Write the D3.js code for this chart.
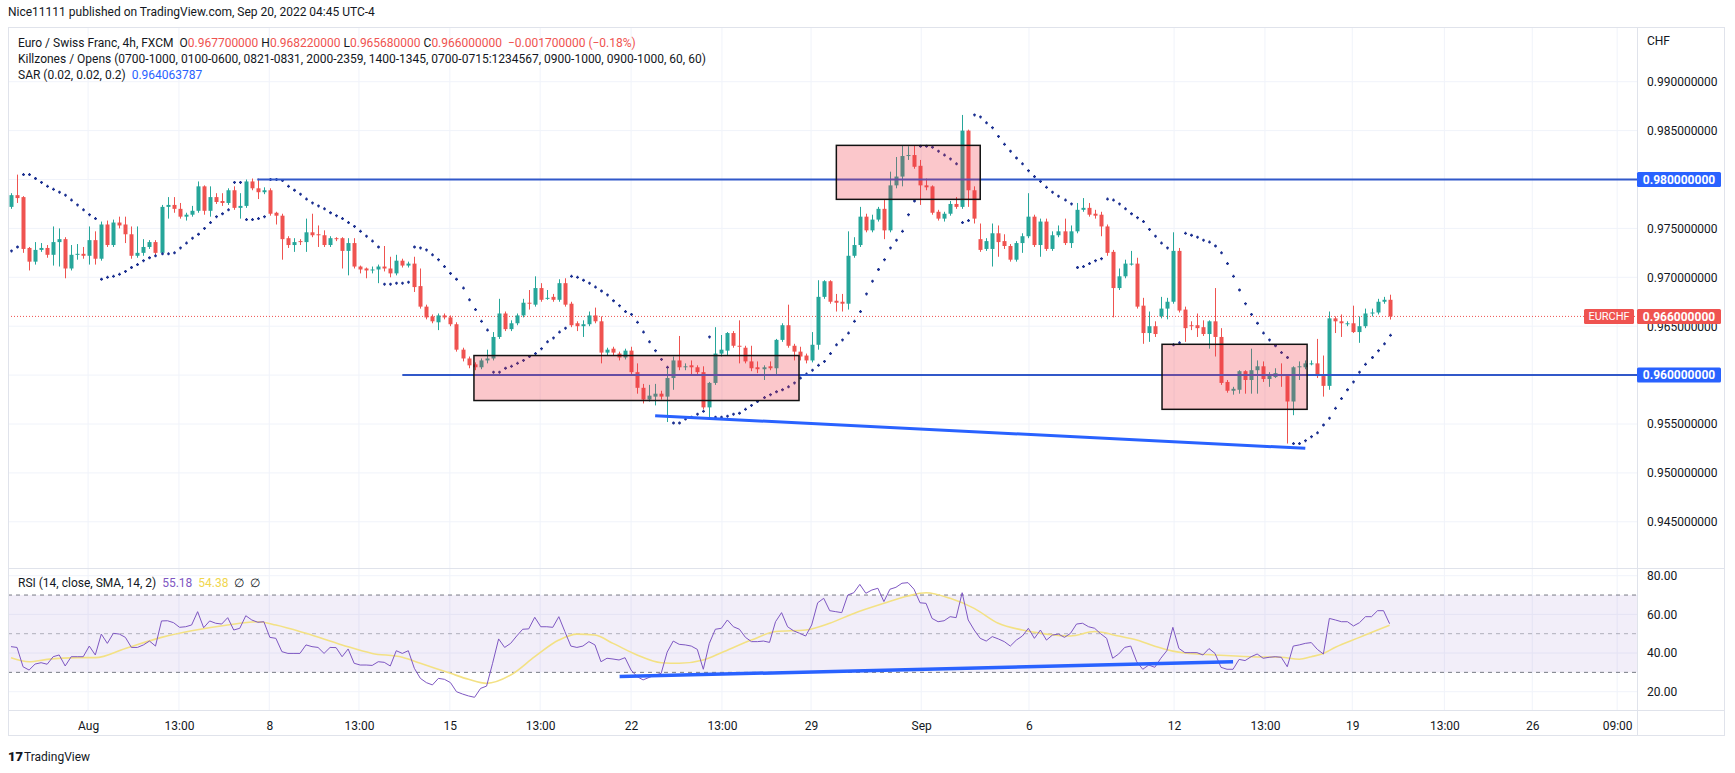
<!DOCTYPE html>
<html>
<head>
<meta charset="utf-8">
<script src="https://cdn.jsdelivr.net/npm/d3@7/dist/d3.min.js"></script>
<style>
  html, body { margin: 0; padding: 0; background: #fff; }
  svg { display: block; font-family: Roboto, "Noto Sans", sans-serif; }
</style>
</head>
<body>
<svg id="chart" width="1735" height="773"></svg>
<script>
// EUR/CHF 4h candles (index 0 = first visible candle)
const opens = [
  0.9772,0.9784,0.9782,0.9730,0.9716,0.9728,0.9730,0.9723,0.9736,0.9739,
  0.9709,0.9723,0.9724,0.9722,0.9738,0.9719,0.9754,0.9733,0.9756,0.9754,
  0.9744,0.9722,0.9725,0.9731,0.9736,0.9725,0.9772,0.9774,0.9770,0.9762,
  0.9764,0.9768,0.9793,0.9768,0.9782,0.9778,0.9776,0.9789,0.9771,0.9773,
  0.9798,0.9791,0.9787,0.9789,0.9766,0.9763,0.9740,0.9733,0.9737,0.9736,
  0.9746,0.9744,0.9743,0.9733,0.9740,0.9740,0.9727,0.9735,0.9711,0.9709,
  0.9708,0.9708,0.9711,0.9709,0.9704,0.9717,0.9712,0.9714,0.9691,0.9670,
  0.9660,0.9654,0.9661,0.9659,0.9652,0.9626,0.9617,0.9611,0.9608,0.9615,
  0.9617,0.9639,0.9663,0.9647,0.9653,0.9661,0.9674,0.9672,0.9689,0.9679,
  0.9680,0.9677,0.9694,0.9673,0.9653,0.9650,0.9652,0.9661,0.9655,0.9623,
  0.9627,0.9622,0.9618,0.9625,0.9603,0.9587,0.9575,0.9578,0.9581,0.9578,
  0.9597,0.9615,0.9609,0.9610,0.9608,0.9603,0.9567,0.9592,0.9622,0.9625,
  0.9643,0.9630,0.9628,0.9614,0.9608,0.9606,0.9609,0.9607,0.9636,0.9651,
  0.9630,0.9624,0.9620,0.9615,0.9631,0.9680,0.9696,0.9676,0.9675,0.9673,
  0.9722,0.9733,0.9762,0.9748,0.9759,0.9770,0.9748,0.9794,0.9803,0.9824,
  0.9825,0.9814,0.9794,0.9793,0.9767,0.9760,0.9765,0.9775,0.9772,0.9850,
  0.9789,0.9739,0.9729,0.9729,0.9745,0.9737,0.9732,0.9718,0.9735,0.9742,
  0.9762,0.9733,0.9757,0.9729,0.9743,0.9747,0.9735,0.9747,0.9769,0.9771,
  0.9765,0.9764,0.9752,0.9726,0.9689,0.9701,0.9714,0.9714,0.9671,0.9643,
  0.9650,0.9660,0.9668,0.9675,0.9727,0.9667,0.9651,0.9651,0.9649,0.9642,
  0.9655,0.9639,0.9593,0.9584,0.9585,0.9604,0.9595,0.9605,0.9609,0.9596,
  0.9598,0.9600,0.9599,0.9573,0.9608,0.9608,0.9612,0.9612,0.9599,0.9589,
  0.9658,0.9655,0.9653,0.9653,0.9644,0.9650,0.9663,0.9664,0.9675,0.9677
];
const highs = [
  0.9786,0.9805,0.9783,0.9731,0.9736,0.9735,0.9733,0.9752,0.9750,0.9741,
  0.9733,0.9734,0.9731,0.9752,0.9747,0.9757,0.9758,0.9759,0.9762,0.9762,
  0.9752,0.9752,0.9739,0.9738,0.9738,0.9774,0.9782,0.9782,0.9776,0.9766,
  0.9773,0.9798,0.9794,0.9793,0.9786,0.9786,0.9791,0.9793,0.9786,0.9800,
  0.9801,0.9801,0.9792,0.9791,0.9767,0.9765,0.9742,0.9740,0.9739,0.9760,
  0.9765,0.9753,0.9748,0.9742,0.9741,0.9741,0.9740,0.9740,0.9712,0.9710,
  0.9711,0.9713,0.9732,0.9721,0.9723,0.9719,0.9716,0.9721,0.9709,0.9672,
  0.9662,0.9663,0.9663,0.9661,0.9654,0.9628,0.9619,0.9613,0.9617,0.9626,
  0.9644,0.9678,0.9665,0.9656,0.9663,0.9678,0.9687,0.9701,0.9694,0.9687,
  0.9683,0.9698,0.9699,0.9675,0.9655,0.9656,0.9665,0.9669,0.9660,0.9628,
  0.9629,0.9624,0.9627,0.9629,0.9612,0.9591,0.9590,0.9591,0.9584,0.9607,
  0.9619,0.9640,0.9612,0.9615,0.9610,0.9609,0.9593,0.9649,0.9641,0.9644,
  0.9645,0.9656,0.9630,0.9630,0.9614,0.9610,0.9614,0.9637,0.9653,0.9672,
  0.9632,0.9629,0.9622,0.9644,0.9697,0.9697,0.9697,0.9683,0.9683,0.9747,
  0.9741,0.9772,0.9765,0.9764,0.9772,0.9779,0.9808,0.9823,0.9835,0.9834,
  0.9835,0.9820,0.9801,0.9794,0.9769,0.9767,0.9778,0.9782,0.9866,0.9851,
  0.9793,0.9755,0.9740,0.9755,0.9753,0.9744,0.9734,0.9737,0.9745,0.9786,
  0.9764,0.9760,0.9760,0.9747,0.9753,0.9760,0.9753,0.9776,0.9781,0.9776,
  0.9769,0.9767,0.9754,0.9728,0.9709,0.9718,0.9727,0.9720,0.9679,0.9665,
  0.9655,0.9680,0.9679,0.9746,0.9730,0.9670,0.9655,0.9663,0.9656,0.9656,
  0.9689,0.9648,0.9595,0.9588,0.9605,0.9605,0.9627,0.9615,0.9614,0.9603,
  0.9607,0.9612,0.9600,0.9609,0.9614,0.9615,0.9615,0.9637,0.9620,0.9665,
  0.9660,0.9662,0.9655,0.9671,0.9660,0.9668,0.9668,0.9678,0.9680,0.96822
];
const lows = [
  0.9770,0.9776,0.9725,0.9707,0.9713,0.9726,0.9720,0.9712,0.9711,0.9699,
  0.9707,0.9718,0.9719,0.9713,0.9713,0.9717,0.9731,0.9731,0.9750,0.9735,
  0.9719,0.9720,0.9722,0.9729,0.9723,0.9723,0.9760,0.9766,0.9760,0.9758,
  0.9762,0.9766,0.9764,0.9762,0.9775,0.9773,0.9774,0.9769,0.9760,0.9771,
  0.9789,0.9780,0.9785,0.9763,0.9754,0.9718,0.9730,0.9726,0.9733,0.9726,
  0.9741,0.9731,0.9731,0.9731,0.9737,0.9709,0.9702,0.9709,0.9704,0.9699,
  0.9704,0.9694,0.9706,0.9700,0.9702,0.9710,0.9710,0.9685,0.9668,0.9657,
  0.9653,0.9646,0.9657,0.9650,0.9624,0.9614,0.9607,0.9605,0.9606,0.9612,
  0.9615,0.9637,0.9645,0.9645,0.9651,0.9659,0.9667,0.9670,0.9675,0.9677,
  0.9675,0.9675,0.9670,0.9649,0.9645,0.9639,0.9650,0.9653,0.9612,0.9620,
  0.9620,0.9615,0.9616,0.9600,0.9581,0.9571,0.9573,0.9569,0.9575,0.9552,
  0.9585,0.9605,0.9605,0.9600,0.9600,0.9565,0.9557,0.9590,0.9619,0.9620,
  0.9628,0.9612,0.9612,0.9604,0.9602,0.9595,0.9605,0.9600,0.9634,0.9628,
  0.9615,0.9615,0.9612,0.9613,0.9626,0.9678,0.9673,0.9665,0.9665,0.9667,
  0.9720,0.9731,0.9746,0.9746,0.9757,0.9739,0.9746,0.9791,0.9793,0.9820,
  0.9811,0.9774,0.9789,0.9764,0.9758,0.9757,0.9763,0.9770,0.9770,0.9772,
  0.9755,0.9726,0.9727,0.9711,0.9721,0.9729,0.9716,0.9716,0.9725,0.9740,
  0.9731,0.9721,0.9727,0.9727,0.9741,0.9733,0.9730,0.9745,0.9767,0.9762,
  0.9760,0.9742,0.9722,0.9659,0.9687,0.9699,0.9712,0.9668,0.9632,0.9634,
  0.9639,0.9658,0.9657,0.9673,0.9664,0.9634,0.9646,0.9639,0.9640,0.9627,
  0.9619,0.9590,0.9582,0.9580,0.9581,0.9581,0.9581,0.9581,0.9593,0.9588,
  0.9597,0.9588,0.9530,0.9559,0.9595,0.9606,0.9610,0.9597,0.9578,0.9585,
  0.9643,0.9639,0.9650,0.9643,0.9633,0.9648,0.9660,0.9662,0.9673,0.96568
];
const closes = [
  0.9784,0.9781,0.9729,0.9716,0.9728,0.9730,0.9723,0.9736,0.9739,0.9709,
  0.9723,0.9724,0.9722,0.9738,0.9719,0.9754,0.9733,0.9756,0.9753,0.9744,
  0.9722,0.9725,0.9731,0.9736,0.9725,0.9772,0.9774,0.9770,0.9762,0.9764,
  0.9768,0.9793,0.9768,0.9782,0.9777,0.9776,0.9789,0.9771,0.9773,0.9798,
  0.9791,0.9787,0.9789,0.9765,0.9763,0.9739,0.9733,0.9736,0.9736,0.9746,
  0.9743,0.9743,0.9733,0.9740,0.9739,0.9727,0.9735,0.9711,0.9708,0.9707,
  0.9708,0.9711,0.9709,0.9704,0.9717,0.9712,0.9714,0.9690,0.9670,0.9659,
  0.9655,0.9661,0.9659,0.9652,0.9626,0.9617,0.9610,0.9608,0.9615,0.9617,
  0.9639,0.9663,0.9647,0.9653,0.9661,0.9674,0.9673,0.9689,0.9677,0.9679,
  0.9677,0.9694,0.9672,0.9651,0.9650,0.9652,0.9661,0.9655,0.9623,0.9626,
  0.9623,0.9618,0.9625,0.9603,0.9587,0.9575,0.9579,0.9581,0.9578,0.9597,
  0.9615,0.9608,0.9609,0.9608,0.9603,0.9567,0.9592,0.9622,0.9626,0.9643,
  0.9630,0.9629,0.9614,0.9607,0.9606,0.9608,0.9607,0.9636,0.9651,0.9630,
  0.9624,0.9619,0.9615,0.9631,0.9680,0.9696,0.9675,0.9674,0.9673,0.9722,
  0.9733,0.9762,0.9748,0.9759,0.9770,0.9748,0.9794,0.9803,0.9824,0.9825,
  0.9813,0.9794,0.9792,0.9766,0.9760,0.9765,0.9775,0.9772,0.9850,0.9789,
  0.9760,0.9728,0.9737,0.9745,0.9736,0.9732,0.9718,0.9735,0.9742,0.9762,
  0.9733,0.9757,0.9729,0.9743,0.9747,0.9735,0.9747,0.9769,0.9771,0.9764,
  0.9763,0.9752,0.9725,0.9689,0.9701,0.9714,0.9714,0.9670,0.9643,0.9650,
  0.9642,0.9668,0.9675,0.9727,0.9666,0.9648,0.9650,0.9648,0.9642,0.9655,
  0.9639,0.9592,0.9584,0.9586,0.9604,0.9595,0.9605,0.9609,0.9596,0.9600,
  0.9602,0.9599,0.9573,0.9608,0.9609,0.9612,0.9612,0.9599,0.9589,0.9658,
  0.9655,0.9653,0.9653,0.9644,0.9650,0.9663,0.9664,0.9675,0.9677,0.9660
];

// Parabolic SAR, one value per candle
const sar = [
  0.9727,0.9731,0.9805,0.9805,0.9801,0.9797,0.9793,0.9790,0.9787,0.9784,
  0.9779,0.9774,0.9769,0.9764,0.9760,0.9698,0.9700,0.9701,0.9703,0.9706,
  0.9710,0.9713,0.9717,0.9720,0.9722,0.9724,0.9724,0.9725,0.9730,0.9735,
  0.9740,0.9744,0.9750,0.9756,0.9762,0.9765,0.9769,0.9797,0.9797,0.9759,
  0.9759,0.9760,0.9762,0.9800,0.9800,0.9799,0.9793,0.9789,0.9785,0.9780,
  0.9776,0.9773,0.9770,0.9766,0.9763,0.9760,0.9756,0.9752,0.9747,0.9742,
  0.9737,0.9731,0.9693,0.9693,0.9694,0.9694,0.9695,0.9731,0.9730,0.9728,
  0.9723,0.9718,0.9711,0.9704,0.9698,0.9689,0.9677,0.9667,0.9655,0.9646,
  0.9603,0.9603,0.9607,0.9609,0.9612,0.9615,0.9619,0.9622,0.9627,0.9634,
  0.9638,0.9644,0.9648,0.9701,0.9700,0.9697,0.9694,0.9690,0.9686,0.9682,
  0.9676,0.9671,0.9665,0.9662,0.9654,0.9644,0.9634,0.9625,0.9616,0.9608,
  0.9551,0.9551,0.9555,0.9557,0.9560,0.9563,0.9639,0.9557,0.9557,0.9558,
  0.9560,0.9561,0.9565,0.9569,0.9573,0.9577,0.9580,0.9583,0.9585,0.9588,
  0.9592,0.9597,0.9601,0.9605,0.9610,0.9614,0.9622,0.9631,0.9636,0.9643,
  0.9655,0.9665,0.9683,0.9696,0.9708,0.9718,0.9730,0.9738,0.9747,0.9764,
  0.9778,0.9834,0.9834,0.9833,0.9829,0.9825,0.9821,0.9816,0.9756,0.9758,
  0.9866,0.9864,0.9858,0.9853,0.9844,0.9836,0.9829,0.9822,0.9816,0.9809,
  0.9803,0.9798,0.9792,0.9787,0.9783,0.9779,0.9775,0.9710,0.9711,0.9714,
  0.9717,0.9719,0.9780,0.9779,0.9775,0.9770,0.9765,0.9761,0.9757,0.9749,
  0.9742,0.9735,0.9730,0.9631,0.9633,0.9745,0.9743,0.9741,0.9738,0.9736,
  0.9732,0.9725,0.9714,0.9701,0.9687,0.9673,0.9662,0.9653,0.9643,0.9636,
  0.9630,0.9623,0.9618,0.9530,0.9530,0.9533,0.9537,0.9541,0.9549,0.9556,
  0.9566,0.9576,0.9585,0.9593,0.9603,0.9611,0.9618,0.9625,0.9632,0.964063787
];

// RSI(14), one value per candle
const rsi = [
  43.3,42.9,32.9,31.2,34.3,35.0,34.2,38.1,39.0,33.3,
  38.1,38.1,38.1,43.6,39.0,49.8,45.0,50.2,49.8,48.1,
  42.9,42.9,44.2,46.2,43.6,56.6,56.7,55.7,53.3,53.6,
  54.5,61.4,53.1,56.6,55.4,55.0,58.3,51.9,52.8,59.3,
  57.1,55.9,56.2,48.1,47.6,40.7,39.8,39.8,39.8,44.2,
  43.3,42.9,39.8,42.9,42.8,38.1,42.1,34.7,33.8,33.8,
  33.6,35.5,35.2,33.3,41.2,39.8,41.2,32.1,26.9,24.7,
  23.5,26.9,26.4,24.7,20.0,18.8,17.8,17.1,21.7,22.9,
  34.7,47.3,42.9,45.0,48.8,52.3,52.5,58.5,53.6,53.6,
  53.3,58.8,51.1,43.6,42.9,43.6,45.9,44.2,35.5,37.3,
  36.9,36.4,37.6,31.2,27.8,26.1,27.4,28.6,29.5,40.5,
  46.2,44.5,44.2,43.6,41.9,31.6,45.0,52.3,52.8,57.1,
  53.6,52.3,48.1,45.9,45.9,46.2,45.5,56.2,60.9,53.6,
  51.5,50.2,48.8,54.5,66.0,68.3,61.9,61.4,60.9,70.0,
  71.2,75.5,70.9,72.6,73.5,66.6,73.0,74.0,76.1,76.4,
  73.0,66.0,65.7,57.9,56.2,56.7,58.8,58.3,71.2,57.1,
  51.9,47.6,46.2,48.5,47.3,45.9,43.6,46.7,48.8,52.8,
  47.6,51.9,46.7,49.3,49.8,48.1,50.2,55.0,55.4,53.6,
  52.8,50.0,47.6,37.3,39.5,42.9,43.6,35.5,31.6,33.8,
  32.6,37.3,41.2,53.3,42.4,40.2,40.2,40.2,39.0,42.3,
  39.8,32.6,31.6,31.6,36.7,36.1,38.1,39.5,37.3,37.8,
  38.1,37.8,32.9,43.6,44.2,45.0,45.4,41.9,39.5,57.9,
  57.1,56.2,56.2,54.0,55.7,58.8,58.8,61.9,61.9,55.18
];

// RSI-based moving average, read at [candle index, value]
const rsiMa = [
  [0,37.6],[3,35.5],[6,36.7],[11,37.6],[14,37.6],[19,42.4],[25,48.1],[30,51.5],
  [36,54.5],[41,56.2],[44,54.5],[49,50.2],[55,44.2],[60,39.8],[65,37.8],[68,34.7],
  [73,29.5],[76,26.4],[79,24.3],[83,28.6],[87,38.1],[91,46.7],[94,49.8],[97,49.3],
  [100,45.0],[104,39.0],[108,35.0],[111,34.7],[115,36.4],[118,40.2],[123,46.7],
  [127,51.1],[132,51.9],[136,55.4],[140,60.5],[145,65.7],[149,69.5],[152,71.2],
  [156,68.3],[160,63.1],[164,55.4],[168,51.9],[172,49.8],[176,48.8],[180,51.1],
  [184,48.8],[187,46.7],[190,43.5],[193,41.0],[195,40.0],[200,39.0],[206,38.1],
  [211,37.8],[214,36.8],[216,38.1],[218,39.8],[220,43.0],[224,48.1],[227,51.9],
  [229,54.38]
];

// time axis ticks (candle index position) and labels
const timeTicks  = [12.8, 27.9, 42.9, 57.8, 72.9, 87.9, 103.0, 118.1, 132.9, 151.2, 169.1, 193.2, 208.3, 222.8, 238.1, 252.7, 266.8];
const timeLabels = ['Aug', '13:00', '8', '13:00', '15', '13:00', '22', '13:00', '29', 'Sep', '6', '12', '13:00', '19', '13:00', '26', '09:00'];

const priceTicks = [0.99, 0.985, 0.98, 0.975, 0.97, 0.965, 0.96, 0.955, 0.95, 0.945];
const rsiTicks = [80, 60, 40, 20];
const rsiBands = [70, 50, 30];

// drawings: horizontal rays (price, start index), zones, trend lines
const rayPrices = [0.98, 0.96];
const rayStarts = [40.9, 65.0];
const zoneX0 = [76.9, 137.1, 191.2];
const zoneX1 = [130.9, 161.0, 215.3];
const zoneTop = [0.9620, 0.98349, 0.96315];
const zoneBottom = [0.9574, 0.97797, 0.9565];
const priceTrend = [[107.0, 0.95585], [215.0, 0.95251]];
const rsiTrend = [[101.1, 27.8], [203.0, 35.5]];

const lastPrice = closes[closes.length - 1];

// ---------- layout ----------
const svg = d3.select('#chart');
const W = 1735;
const frame = { left: 8, right: 1725, top: 27, bottom: 736 };
const plotRight = 1637;
const pane = { top: 27, bottom: 568 };
const rsiPane = { top: 568, bottom: 710 };

const upColor = '#26a69a';
const downColor = '#ef5350';
const textColor = '#131722';
const gridColor = '#f0f3fa';
const borderColor = '#e0e3eb';
const blue = '#2962ff';
const fontSize = 12;

const x = d3.scaleLinear().domain([-0.5, 270.1]).range([frame.left, plotRight]);
const y = d3.scaleLinear().domain([0.945, 0.99]).range([521.8, 81.7]);
const yr = d3.scaleLinear().domain([20, 80]).range([691.7, 575.7]);

svg.append('rect').attr('width', W).attr('height', 773).attr('fill', '#fff');

const defs = svg.append('defs');
defs.append('clipPath').attr('id', 'clipPrice')
  .append('rect').attr('x', frame.left).attr('y', pane.top)
  .attr('width', plotRight - frame.left).attr('height', pane.bottom - pane.top);
defs.append('clipPath').attr('id', 'clipRsi')
  .append('rect').attr('x', frame.left).attr('y', rsiPane.top)
  .attr('width', plotRight - frame.left).attr('height', rsiPane.bottom - rsiPane.top);

// grid
const grid = svg.append('g');
grid.selectAll('.vg').data(timeTicks).join('line')
  .attr('x1', d => x(d)).attr('x2', d => x(d))
  .attr('y1', pane.top).attr('y2', rsiPane.bottom)
  .attr('stroke', gridColor);
grid.selectAll('.hg').data(priceTicks).join('line')
  .attr('x1', frame.left).attr('x2', plotRight)
  .attr('y1', d => y(d)).attr('y2', d => y(d))
  .attr('stroke', gridColor);
grid.selectAll('.rg').data(rsiTicks).join('line')
  .attr('x1', frame.left).attr('x2', plotRight)
  .attr('y1', d => yr(d)).attr('y2', d => yr(d))
  .attr('stroke', gridColor);

// ---------- price pane ----------
const gp = svg.append('g').attr('clip-path', 'url(#clipPrice)');

// last price dotted line
gp.append('line')
  .attr('x1', frame.left).attr('x2', plotRight)
  .attr('y1', y(lastPrice)).attr('y2', y(lastPrice))
  .attr('stroke', downColor).attr('stroke-dasharray', '1,2');

// candles
const idx = d3.range(closes.length);
const colorOf = i => closes[i] >= opens[i] ? upColor : downColor;
const bodyW = 4;

gp.append('g').selectAll('line').data(idx).join('line')
  .attr('x1', i => Math.round(x(i)) + 0.5).attr('x2', i => Math.round(x(i)) + 0.5)
  .attr('y1', i => y(highs[i])).attr('y2', i => y(lows[i]))
  .attr('stroke', colorOf).attr('stroke-width', 1);

gp.append('g').selectAll('rect').data(idx).join('rect')
  .attr('x', i => Math.round(x(i)) + 0.5 - bodyW / 2)
  .attr('y', i => y(Math.max(opens[i], closes[i])))
  .attr('width', bodyW)
  .attr('height', i => Math.max(1, Math.abs(y(opens[i]) - y(closes[i]))))
  .attr('fill', colorOf);

// SAR crosses
gp.append('g').selectAll('path').data(idx).join('path')
  .attr('transform', i => `translate(${Math.round(x(i)) + 0.5},${y(sar[i])})`)
  .attr('d', 'M-1.5,0H1.5M0,-1.5V1.5')
  .attr('stroke', '#1c3191').attr('stroke-width', 1.3);

// horizontal rays
rayPrices.forEach((p, k) => {
  gp.append('line')
    .attr('x1', x(rayStarts[k])).attr('x2', plotRight)
    .attr('y1', y(p)).attr('y2', y(p))
    .attr('stroke', '#3158c9').attr('stroke-width', 2);
});

// zones
zoneX0.forEach((x0, k) => {
  gp.append('rect')
    .attr('x', x(x0)).attr('y', y(zoneTop[k]))
    .attr('width', x(zoneX1[k]) - x(x0))
    .attr('height', y(zoneBottom[k]) - y(zoneTop[k]))
    .attr('fill', 'rgba(242,54,69,0.28)')
    .attr('stroke', '#111').attr('stroke-width', 1.5);
});

// trend line on price
gp.append('line')
  .attr('x1', x(priceTrend[0][0])).attr('y1', y(priceTrend[0][1]))
  .attr('x2', x(priceTrend[1][0])).attr('y2', y(priceTrend[1][1]))
  .attr('stroke', blue).attr('stroke-width', 3);

// ---------- RSI pane ----------
const gr = svg.append('g').attr('clip-path', 'url(#clipRsi)');
gr.append('rect')
  .attr('x', frame.left).attr('width', plotRight - frame.left)
  .attr('y', yr(70)).attr('height', yr(30) - yr(70))
  .attr('fill', 'rgba(126,87,194,0.1)');
gr.selectAll('.band').data(rsiBands).join('line')
  .attr('x1', frame.left).attr('x2', plotRight)
  .attr('y1', d => yr(d)).attr('y2', d => yr(d))
  .attr('stroke', d => d === 50 ? 'rgba(120,123,134,0.55)' : '#787b86')
  .attr('stroke-dasharray', '4,4');

gr.append('path').datum(rsiMa)
  .attr('fill', 'none').attr('stroke', '#f3e184').attr('stroke-width', 1.6)
  .attr('d', d3.line().x(d => x(d[0])).y(d => yr(d[1])).curve(d3.curveMonotoneX));

gr.append('path').datum(idx)
  .attr('fill', 'none').attr('stroke', '#7e57c2').attr('stroke-width', 1)
  .attr('d', d3.line().x(i => x(i)).y(i => yr(rsi[i])));

gr.append('line')
  .attr('x1', x(rsiTrend[0][0])).attr('y1', yr(rsiTrend[0][1]))
  .attr('x2', x(rsiTrend[1][0])).attr('y2', yr(rsiTrend[1][1]))
  .attr('stroke', blue).attr('stroke-width', 3.5);

// ---------- frame ----------
const fr = svg.append('g').attr('fill', 'none').attr('stroke', borderColor);
fr.append('rect').attr('x', frame.left + 0.5).attr('y', frame.top + 0.5)
  .attr('width', frame.right - frame.left - 1).attr('height', frame.bottom - frame.top - 1);
fr.append('line').attr('x1', plotRight + 0.5).attr('x2', plotRight + 0.5)
  .attr('y1', frame.top).attr('y2', frame.bottom);
fr.append('line').attr('x1', frame.left).attr('x2', frame.right)
  .attr('y1', rsiPane.top + 0.5).attr('y2', rsiPane.top + 0.5);
fr.append('line').attr('x1', frame.left).attr('x2', frame.right)
  .attr('y1', rsiPane.bottom + 0.5).attr('y2', rsiPane.bottom + 0.5);

// ---------- axes ----------
const fmtPrice = d => d.toFixed(9);
// values shown in a coloured badge are not repeated as plain tick text
const plainPriceTicks = priceTicks.filter(p => !rayPrices.includes(p) && Math.abs(p - lastPrice) > 0.0008);
const priceAxis = svg.append('g')
  .attr('transform', `translate(${plotRight},0)`)
  .call(d3.axisRight(y).tickValues(plainPriceTicks).tickFormat(fmtPrice).tickSize(0).tickPadding(10));
const rsiAxis = svg.append('g')
  .attr('transform', `translate(${plotRight},0)`)
  .call(d3.axisRight(yr).tickValues(rsiTicks).tickFormat(d => d.toFixed(2)).tickSize(0).tickPadding(10));
const timeAxis = svg.append('g')
  .attr('transform', `translate(0,${rsiPane.bottom})`)
  .call(d3.axisBottom(x).tickValues(timeTicks).tickFormat((d, i) => timeLabels[i]).tickSize(0).tickPadding(11));
[priceAxis, rsiAxis, timeAxis].forEach(a => {
  a.select('.domain').remove();
  a.selectAll('text').attr('fill', textColor).attr('font-size', fontSize)
    .attr('font-family', 'Roboto, "Noto Sans", sans-serif');
});

svg.append('text').attr('x', plotRight + 10).attr('y', 45)
  .attr('font-size', fontSize).attr('fill', textColor).text('CHF');

// axis badges
function badge(p, fill, label) {
  const g = svg.append('g');
  g.append('rect').attr('x', plotRight).attr('y', y(p) - 7.5)
    .attr('width', 84).attr('height', 15).attr('rx', 1.5).attr('fill', fill);
  g.append('text').attr('x', plotRight + 42).attr('y', y(p)).attr('dy', '0.35em')
    .attr('text-anchor', 'middle').attr('font-size', fontSize).attr('font-weight', 700)
    .attr('fill', '#fff').text(label);
}
rayPrices.forEach(p => badge(p, blue, fmtPrice(p)));
badge(lastPrice, downColor, fmtPrice(lastPrice));
svg.append('rect').attr('x', plotRight - 53).attr('y', y(lastPrice) - 7.5)
  .attr('width', 50).attr('height', 15).attr('rx', 1.5).attr('fill', downColor);
svg.append('text').attr('x', plotRight - 28).attr('y', y(lastPrice)).attr('dy', '0.35em')
  .attr('text-anchor', 'middle').attr('font-size', 11).attr('fill', '#fff').text('EURCHF');

// ---------- legends ----------
const n = closes.length;
const chg = closes[n - 1] - closes[n - 2];
const pct = chg / closes[n - 2] * 100;
const signed = (v, digits) => (v < 0 ? '\u2212' : '+') + Math.abs(v).toFixed(digits);

svg.append('text').attr('x', 8).attr('y', 16).attr('font-size', fontSize).attr('fill', textColor)
  .text('Nice11111 published on TradingView.com, Sep 20, 2022 04:45 UTC-4');

const leg = svg.append('g').attr('font-size', fontSize).attr('fill', textColor);
const l1 = leg.append('text').attr('x', 18).attr('y', 47);
l1.append('tspan').text('Euro / Swiss Franc, 4h, FXCM ');
[['O', opens[n - 1]], ['H', highs[n - 1]], ['L', lows[n - 1]], ['C', closes[n - 1]]].forEach(([k, v]) => {
  l1.append('tspan').text('\u00a0' + k);
  l1.append('tspan').attr('fill', downColor).text(fmtPrice(v));
});
l1.append('tspan').attr('fill', downColor)
  .text('\u00a0\u00a0' + signed(chg, 9) + ' (' + signed(pct, 2) + '%)');
leg.append('text').attr('x', 18).attr('y', 63)
  .text('Killzones / Opens (0700-1000, 0100-0600, 0821-0831, 2000-2359, 1400-1345, 0700-0715:1234567, 0900-1000, 0900-1000, 60, 60)');
const l3 = leg.append('text').attr('x', 18).attr('y', 79);
l3.append('tspan').text('SAR (0.02, 0.02, 0.2) ');
l3.append('tspan').attr('fill', '#2962ff').text('\u00a0' + sar[n - 1].toFixed(9));

const l4 = leg.append('text').attr('x', 18).attr('y', 587);
l4.append('tspan').text('RSI (14, close, SMA, 14, 2) ');
l4.append('tspan').attr('fill', '#7e57c2').text('\u00a0' + rsi[n - 1].toFixed(2));
l4.append('tspan').attr('fill', '#f0d64e').text('\u00a0\u00a0' + rsiMa[rsiMa.length - 1][1].toFixed(2));
l4.append('tspan').text('\u00a0\u00a0\u2205\u00a0\u00a0\u2205');

// ---------- footer logo ----------
const foot = svg.append('g').attr('transform', 'translate(8,757)');
foot.append('text').attr('y', 4).attr('font-size', 13).attr('font-weight', 900)
  .attr('fill', textColor).text('17');
foot.append('text').attr('x', 16).attr('y', 4).attr('font-size', fontSize)
  .attr('fill', textColor).text('TradingView');
</script>
</body>
</html>
